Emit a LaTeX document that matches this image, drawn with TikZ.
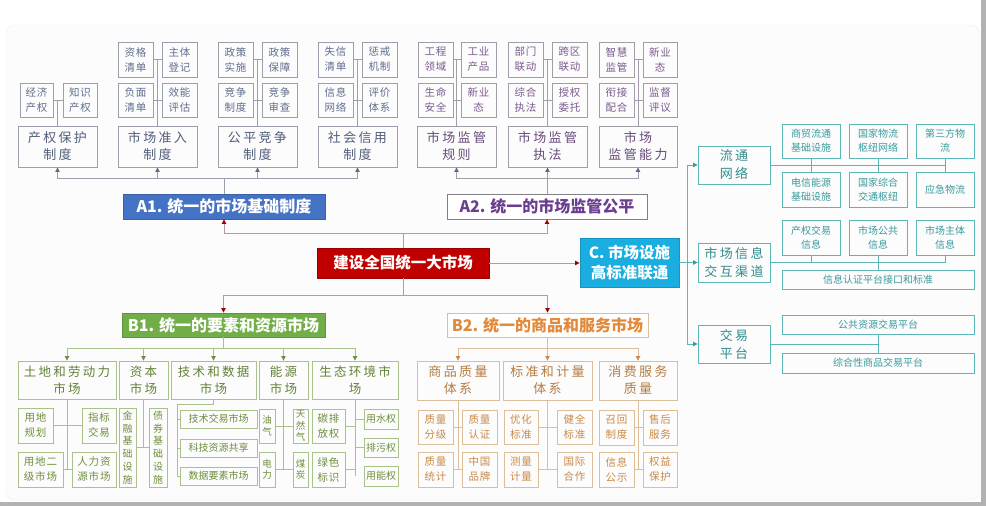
\documentclass[tikz,border=0pt]{standalone}
\usepackage{fontspec}
\setmainfont{Noto Sans CJK SC}
\newfontfamily\widecjk[LetterSpace=18]{Noto Sans CJK SC}
\newfontfamily\smallcjk[LetterSpace=8]{Noto Sans CJK SC}
\usetikzlibrary{arrows.meta}
\definecolor{Abd}{HTML}{9AA0AC}
\definecolor{Atx}{HTML}{5F6E8E}
\definecolor{Ahead}{HTML}{4472C4}
\definecolor{Pbd}{HTML}{A39DAA}
\definecolor{Ptx}{HTML}{7A5A8E}
\definecolor{Phead}{HTML}{6B3F8F}
\definecolor{myred}{HTML}{C00000}
\definecolor{Cblue}{HTML}{1AAEE0}
\definecolor{Tbd}{HTML}{5DB6B6}
\definecolor{Ttx}{HTML}{3A9A9C}
\definecolor{Gbd}{HTML}{A9C28C}
\definecolor{Gtx}{HTML}{6E8F3E}
\definecolor{Ghead}{HTML}{72AE48}
\definecolor{Obd}{HTML}{DDBE9A}
\definecolor{Otx}{HTML}{C98A4A}
\definecolor{Ohead}{HTML}{E3893A}
\definecolor{Mline}{HTML}{B59C9C}
\newcommand\mkbox[7]{\node[#6,minimum width={(#4-#2)*1pt},minimum height={(#5-#3)*1pt}] (#1) at ({(#2+#4)/2},{(#3+#5)/2}) {#7};}
\tikzset{
  box/.style={draw,line width=0.9pt,inner sep=0pt,align=center},
  sA/.style={box,draw=Abd,text=Atx,font=\smallcjk\fontsize{10.5}{15}\selectfont},
  cA/.style={box,draw=Abd,text=Atx!85!black,font=\widecjk\fontsize{13}{17}\selectfont},
  sP/.style={box,draw=Pbd,text=Ptx,font=\smallcjk\fontsize{10.5}{15}\selectfont},
  cP/.style={box,draw=Pbd,text=Ptx!85!black,font=\widecjk\fontsize{13}{17}\selectfont},
  sT/.style={box,draw=Tbd,text=Ttx,font=\fontsize{10}{14}\selectfont},
  cT/.style={box,draw=Tbd,text=Ttx!90!black,font=\widecjk\fontsize{13}{18}\selectfont},
  sG/.style={box,draw=Gbd,text=Gtx,font=\smallcjk\fontsize{10.5}{15}\selectfont},
  vG/.style={box,draw=Gbd,text=Gtx,font=\fontsize{9.5}{11.5}\selectfont},
  vGl/.style={box,draw=Gbd,text=Gtx,font=\fontsize{10}{12.8}\selectfont},
  lG/.style={box,draw=Gbd,text=Gtx,font=\fontsize{10}{13}\selectfont},
  cG/.style={box,draw=Gbd,text=Gtx!90!black,font=\widecjk\fontsize{12.5}{17}\selectfont},
  sO/.style={box,draw=Obd,text=Otx,font=\smallcjk\fontsize{10.5}{15}\selectfont},
  cO/.style={box,draw=Obd,text=Otx!90!black,font=\widecjk\fontsize{13}{17}\selectfont},
  hA/.style={box,fill=Ahead,draw=Ahead!85!black,text=white,font=\bfseries\fontsize{16}{19}\selectfont},
  hP/.style={box,fill=white,draw=Pbd!80!black,text=Phead,font=\bfseries\fontsize{16}{19}\selectfont},
  hG/.style={box,fill=Ghead,draw=Ghead!85!black,text=white,font=\bfseries\fontsize{16}{19}\selectfont},
  hO/.style={box,fill=white,draw=Obd,text=Ohead,font=\bfseries\fontsize{16}{19}\selectfont},
  hM/.style={box,fill=myred,draw=myred!80!black,text=white,font=\bfseries\fontsize{15.5}{19}\selectfont},
  hC/.style={box,fill=Cblue,draw=Cblue!85!black,text=white,font=\bfseries\fontsize{15.5}{20}\selectfont},
  lnA/.style={draw=Abd,line width=0.8pt},
  arA/.style={lnA,-{Triangle[length=4.5pt,width=4.5pt,color=Atx]}},
  lnP/.style={draw=Pbd,line width=0.8pt},
  arP/.style={lnP,-{Triangle[length=4.5pt,width=4.5pt,color=Ptx]}},
  lnM/.style={draw=Mline,line width=0.8pt},
  arM/.style={lnM,-{Triangle[length=4.5pt,width=4.5pt,color=myred!80!black]}},
  lnT/.style={draw=Tbd,line width=0.8pt},
  arT/.style={lnT,-{Triangle[length=4.5pt,width=4.5pt,color=Ttx]}},
  lnG/.style={draw=Gbd,line width=0.8pt},
  arG/.style={lnG,-{Triangle[length=4.5pt,width=4.5pt,color=Gtx]}},
  lnO/.style={draw=Obd,line width=0.8pt},
  arO/.style={lnO,-{Triangle[length=4.5pt,width=4.5pt,color=Otx]}},
}
\begin{document}
\begin{tikzpicture}[x=1pt,y=-1pt]
\useasboundingbox (0,0) rectangle (986,506);
\fill[white] (0,0) rectangle (986,506);
\draw[draw=black!7,fill=black!1,rounded corners=8pt] (6,25) rectangle (979,500);
\fill[black!30] (981,0) rectangle (986,506);
\fill[black!30] (0,502) rectangle (986,506);

% ---------------- A1 ----------------
\mkbox{a11}{20}{83}{53}{117}{sA}{经济\\产权}
\mkbox{a12}{63}{83}{97}{117}{sA}{知识\\产权}
\mkbox{a1c}{18}{126}{97}{167}{cA}{产权保护\\制度}
\draw[lnA] (a11) -- (a12);
\draw[lnA] (a1c.north) -- (a1c.north |- a11.east);

\mkbox{a21}{118}{42}{153}{77}{sA}{资格\\清单}
\mkbox{a22}{162}{42}{197}{77}{sA}{主体\\登记}
\mkbox{a23}{118}{83}{153}{117}{sA}{负面\\清单}
\mkbox{a24}{162}{83}{197}{117}{sA}{效能\\评估}
\mkbox{a2c}{118}{126}{197}{167}{cA}{市场准入\\制度}
\draw[lnA] (a21) -- (a22);
\draw[lnA] (a23) -- (a24);
\draw[lnA] (a2c.north) -- (a2c.north |- a21.east);

\mkbox{a31}{218}{42}{253}{77}{sA}{政策\\实施}
\mkbox{a32}{262}{42}{297}{77}{sA}{政策\\保障}
\mkbox{a33}{218}{83}{253}{117}{sA}{竞争\\制度}
\mkbox{a34}{262}{83}{297}{117}{sA}{竞争\\审查}
\mkbox{a3c}{218}{126}{297}{167}{cA}{公平竞争\\制度}
\draw[lnA] (a31) -- (a32);
\draw[lnA] (a33) -- (a34);
\draw[lnA] (a3c.north) -- (a3c.north |- a31.east);

\mkbox{a41}{318}{42}{353}{77}{sA}{失信\\清单}
\mkbox{a42}{362}{42}{397}{77}{sA}{惩戒\\机制}
\mkbox{a43}{318}{83}{353}{117}{sA}{信息\\网络}
\mkbox{a44}{362}{83}{397}{117}{sA}{评价\\体系}
\mkbox{a4c}{318}{126}{397}{167}{cA}{社会信用\\制度}
\draw[lnA] (a41) -- (a42);
\draw[lnA] (a43) -- (a44);
\draw[lnA] (a4c.north) -- (a4c.north |- a41.east);

\mkbox{A1}{123}{194}{325}{219}{hA}{A1. 统一的市场基础制度}
\draw[lnA] (A1.north) -- ++(0,-15) coordinate (ja);
\draw[lnA] (ja -| a1c.south) -- (ja -| a4c.south);
\foreach \n in {a1c,a2c,a3c,a4c} \draw[arA] (ja -| \n.south) -- (\n.south);

% ---------------- A2 ----------------
\mkbox{p11}{418}{42}{453}{77}{sP}{工程\\领域}
\mkbox{p12}{461}{42}{496}{77}{sP}{工业\\产品}
\mkbox{p13}{418}{83}{453}{117}{sP}{生命\\安全}
\mkbox{p14}{461}{83}{496}{117}{sP}{新业\\态}
\mkbox{p1c}{417}{126}{496}{167}{cP}{市场监管\\规则}
\draw[lnP] (p11) -- (p12);
\draw[lnP] (p13) -- (p14);
\draw[lnP] (p1c.north) -- (p1c.north |- p11.east);

\mkbox{p21}{508}{42}{543}{77}{sP}{部门\\联动}
\mkbox{p22}{552}{42}{587}{77}{sP}{跨区\\联动}
\mkbox{p23}{508}{83}{543}{117}{sP}{综合\\执法}
\mkbox{p24}{552}{83}{587}{117}{sP}{授权\\委托}
\mkbox{p2c}{508}{126}{587}{167}{cP}{市场监管\\执法}
\draw[lnP] (p21) -- (p22);
\draw[lnP] (p23) -- (p24);
\draw[lnP] (p2c.north) -- (p2c.north |- p21.east);

\mkbox{p31}{599}{42}{634}{77}{sP}{智慧\\监管}
\mkbox{p32}{643}{42}{677}{77}{sP}{新业\\态}
\mkbox{p33}{599}{83}{634}{117}{sP}{衔接\\配合}
\mkbox{p34}{643}{83}{677}{117}{sP}{监督\\评议}
\mkbox{p3c}{599}{126}{677}{167}{cP}{市场\\监管能力}
\draw[lnP] (p31) -- (p32);
\draw[lnP] (p33) -- (p34);
\draw[lnP] (p3c.north) -- (p3c.north |- p31.east);

\mkbox{A2}{447}{194}{647}{219}{hP}{A2. 统一的市场监管公平}
\draw[lnP] (A2.north) -- ++(0,-15) coordinate (jp);
\draw[lnP] (jp -| p1c.south) -- (jp -| p3c.south);
\foreach \n in {p1c,p2c,p3c} \draw[arP] (jp -| \n.south) -- (\n.south);

% ---------------- centre ----------------
\mkbox{M}{317}{248}{489}{278}{hM}{建设全国统一大市场}
\mkbox{C}{580}{238}{679}{287}{hC}{C. 市场设施\\高标准联通}
\mkbox{B1}{122}{313}{325}{337}{hG}{B1. 统一的要素和资源市场}
\mkbox{B2}{447}{313}{648}{337}{hO}{B2. 统一的商品和服务市场}
\draw[lnM] (M.north) -- ++(0,-14) coordinate (jm1);
\draw[lnM] (jm1 -| A1.south) -- (jm1 -| A2.south);
\draw[arM] (jm1 -| A1.south) -- (A1.south);
\draw[arM] (jm1 -| A2.south) -- (A2.south);
\draw[lnM] (M.south) -- ++(0,17) coordinate (jm2);
\draw[lnM] (jm2 -| B1.north) -- (jm2 -| B2.north);
\draw[arM] (jm2 -| B1.north) -- (B1.north);
\draw[arM] (jm2 -| B2.north) -- (B2.north);
\draw[arM] (M.east) -- (M.east -| C.west);

% ---------------- right (C) ----------------
\mkbox{R1}{698}{146}{770}{184}{cT}{流通\\网络}
\mkbox{R2}{698}{243}{770}{282}{cT}{市场信息\\交互渠道}
\mkbox{R3}{698}{325}{770}{363}{cT}{交易\\平台}
\coordinate (jr) at (687,263);
\draw[lnT] (C.east) -- (C.east -| jr);
\draw[lnT] (jr |- R1.west) -- (jr |- R3.west);
\foreach \n in {R1,R2,R3} \draw[arT] (jr |- \n.west) -- (\n.west);

\mkbox{r11}{782}{124}{840}{158}{sT}{商贸流通\\基础设施}
\mkbox{r12}{849}{124}{907}{158}{sT}{国家物流\\枢纽网络}
\mkbox{r13}{916}{124}{974}{158}{sT}{第三方物\\流}
\mkbox{r21}{782}{172}{840}{207}{sT}{电信能源\\基础设施}
\mkbox{r22}{849}{172}{907}{207}{sT}{国家综合\\交通枢纽}
\mkbox{r23}{916}{172}{974}{207}{sT}{应急物流}
\draw[lnT] (R1.east) -- (R1.east -| r13.south);
\draw[lnT] (r11) -- (r21);
\draw[lnT] (r12) -- (r22);
\draw[lnT] (r13) -- (r23);

\mkbox{r31}{782}{220}{840}{255}{sT}{产权交易\\信息}
\mkbox{r32}{849}{220}{907}{255}{sT}{市场公共\\信息}
\mkbox{r33}{916}{220}{974}{255}{sT}{市场主体\\信息}
\mkbox{r4}{782}{270}{974}{289}{sT}{信息认证平台接口和标准}
\draw[lnT] (R2.east) -- (R2.east -| r33.south);
\draw[lnT] (r31.south) -- (r31.south |- R2.east);
\draw[lnT] (r33.south) -- (r33.south |- R2.east);
\draw[lnT] (r32.south) -- (r32.south |- r4.north);

\mkbox{r5}{782}{315}{974}{334}{sT}{公共资源交易平台}
\mkbox{r6}{782}{353}{974}{373}{sT}{综合性商品交易平台}
\draw[lnT] (R3.east) -- (R3.east -| r5.south);
\draw[lnT] (r5) -- (r6);

% ---------------- B1 ----------------
\mkbox{d1}{18}{361}{116}{399}{cG}{土地和劳动力\\市场}
\mkbox{d2}{119}{361}{168}{399}{cG}{资本\\市场}
\mkbox{d3}{171}{361}{256}{399}{cG}{技术和数据\\市场}
\mkbox{d4}{259}{361}{308}{399}{cG}{能源\\市场}
\mkbox{d5}{312}{361}{398}{399}{cG}{生态环境市\\场}
\draw[lnG] (B1.south) -- ++(0,11) coordinate (jb);
\draw[lnG] (jb -| d1.north) -- (jb -| d5.north);
\foreach \n in {d1,d2,d3,d4,d5} \draw[arG] (jb -| \n.north) -- (\n.north);

\mkbox{g11}{18}{408}{53}{443}{sG}{用地\\规划}
\mkbox{g12}{82}{408}{116}{443}{sG}{指标\\交易}
\mkbox{g13}{18}{452}{63}{487}{sG}{用地二\\级市场}
\mkbox{g14}{72}{452}{116}{487}{sG}{人力资\\源市场}
\draw[lnG] (g11) -- (g12);
\draw[lnG] (g13) -- (g14);
\draw[lnG] (d1.south) -- (d1.south |- g13.east);

\mkbox{g21}{119}{408}{136}{487}{vGl}{金\\融\\基\\础\\设\\施}
\mkbox{g22}{149}{408}{167}{487}{vGl}{债\\券\\基\\础\\设\\施}
\draw[lnG] (g21) -- (g22);
\draw[lnG] (d2.south) -- (d2.south |- g21.east);

\mkbox{g31}{180}{410}{257}{428}{lG}{技术交易市场}
\mkbox{g32}{180}{439}{257}{457}{lG}{科技资源共享}
\mkbox{g33}{180}{467}{257}{485}{lG}{数据要素市场}
\coordinate (jt) at (177,404);
\draw[lnG] (d3.south) |- (jt) -- (jt |- g33.west);
\draw[lnG] (jt |- g31.west) -- (g31.west);
\draw[lnG] (jt |- g32.west) -- (g32.west);
\draw[lnG] (jt |- g33.west) -- (g33.west);

\mkbox{g41}{259}{409}{275}{443}{vG}{油\\气}
\mkbox{g42}{293}{409}{308}{443}{vG}{天\\然\\气}
\mkbox{g43}{259}{452}{275}{487}{vG}{电\\力}
\mkbox{g44}{293}{452}{308}{487}{vG}{煤\\炭}
\draw[lnG] (g41) -- (g42);
\draw[lnG] (g43) -- (g44);
\draw[lnG] (d4.south) -- (d4.south |- g43.east);

\mkbox{g51}{312}{409}{345}{443}{sG}{碳排\\放权}
\mkbox{g52}{312}{452}{345}{487}{sG}{绿色\\标识}
\mkbox{g53}{364}{409}{398}{429}{lG}{用水权}
\mkbox{g54}{364}{438}{398}{457}{lG}{排污权}
\mkbox{g55}{364}{466}{398}{486}{lG}{用能权}
\draw[lnG] (d5.south) -- (d5.south |- g55.west);
\draw[lnG] (g51.east) -- (g51.east -| d5.south);
\draw[lnG] (g52.east) -- (g52.east -| d5.south);
\draw[lnG] (d5.south |- g53.west) -- (g53.west);
\draw[lnG] (d5.south |- g54.west) -- (g54.west);

% ---------------- B2 ----------------
\mkbox{e1}{417}{361}{499}{400}{cO}{商品质量\\体系}
\mkbox{e2}{503}{361}{592}{400}{cO}{标准和计量\\体系}
\mkbox{e3}{599}{361}{677}{400}{cO}{消费服务\\质量}
\draw[lnO] (B2.south) -- ++(0,11) coordinate (jo);
\draw[lnO] (jo -| e1.north) -- (jo -| e3.north);
\foreach \n in {e1,e2,e3} \draw[arO] (jo -| \n.north) -- (\n.north);

\mkbox{o11}{418}{410}{453}{444}{sO}{质量\\分级}
\mkbox{o12}{462}{410}{497}{444}{sO}{质量\\认证}
\mkbox{o13}{418}{452}{453}{487}{sO}{质量\\统计}
\mkbox{o14}{462}{452}{497}{487}{sO}{中国\\品牌}
\draw[lnO] (o11) -- (o12);
\draw[lnO] (o13) -- (o14);
\draw[lnO] (e1.south) -- (e1.south |- o13.east);

\mkbox{o21}{504}{410}{538}{444}{sO}{优化\\标准}
\mkbox{o22}{557}{410}{592}{444}{sO}{健全\\标准}
\mkbox{o23}{504}{452}{538}{487}{sO}{测量\\计量}
\mkbox{o24}{557}{452}{592}{487}{sO}{国际\\合作}
\draw[lnO] (o21) -- (o22);
\draw[lnO] (o23) -- (o24);
\draw[lnO] (e2.south) -- (e2.south |- o23.east);

\mkbox{o31}{599}{410}{634}{445}{sO}{召回\\制度}
\mkbox{o32}{643}{410}{677}{445}{sO}{售后\\服务}
\mkbox{o33}{599}{452}{634}{487}{sO}{信息\\公示}
\mkbox{o34}{643}{452}{677}{487}{sO}{权益\\保护}
\draw[lnO] (o31) -- (o32);
\draw[lnO] (o33) -- (o34);
\draw[lnO] (e3.south) -- (e3.south |- o33.east);
\end{tikzpicture}
\end{document}
